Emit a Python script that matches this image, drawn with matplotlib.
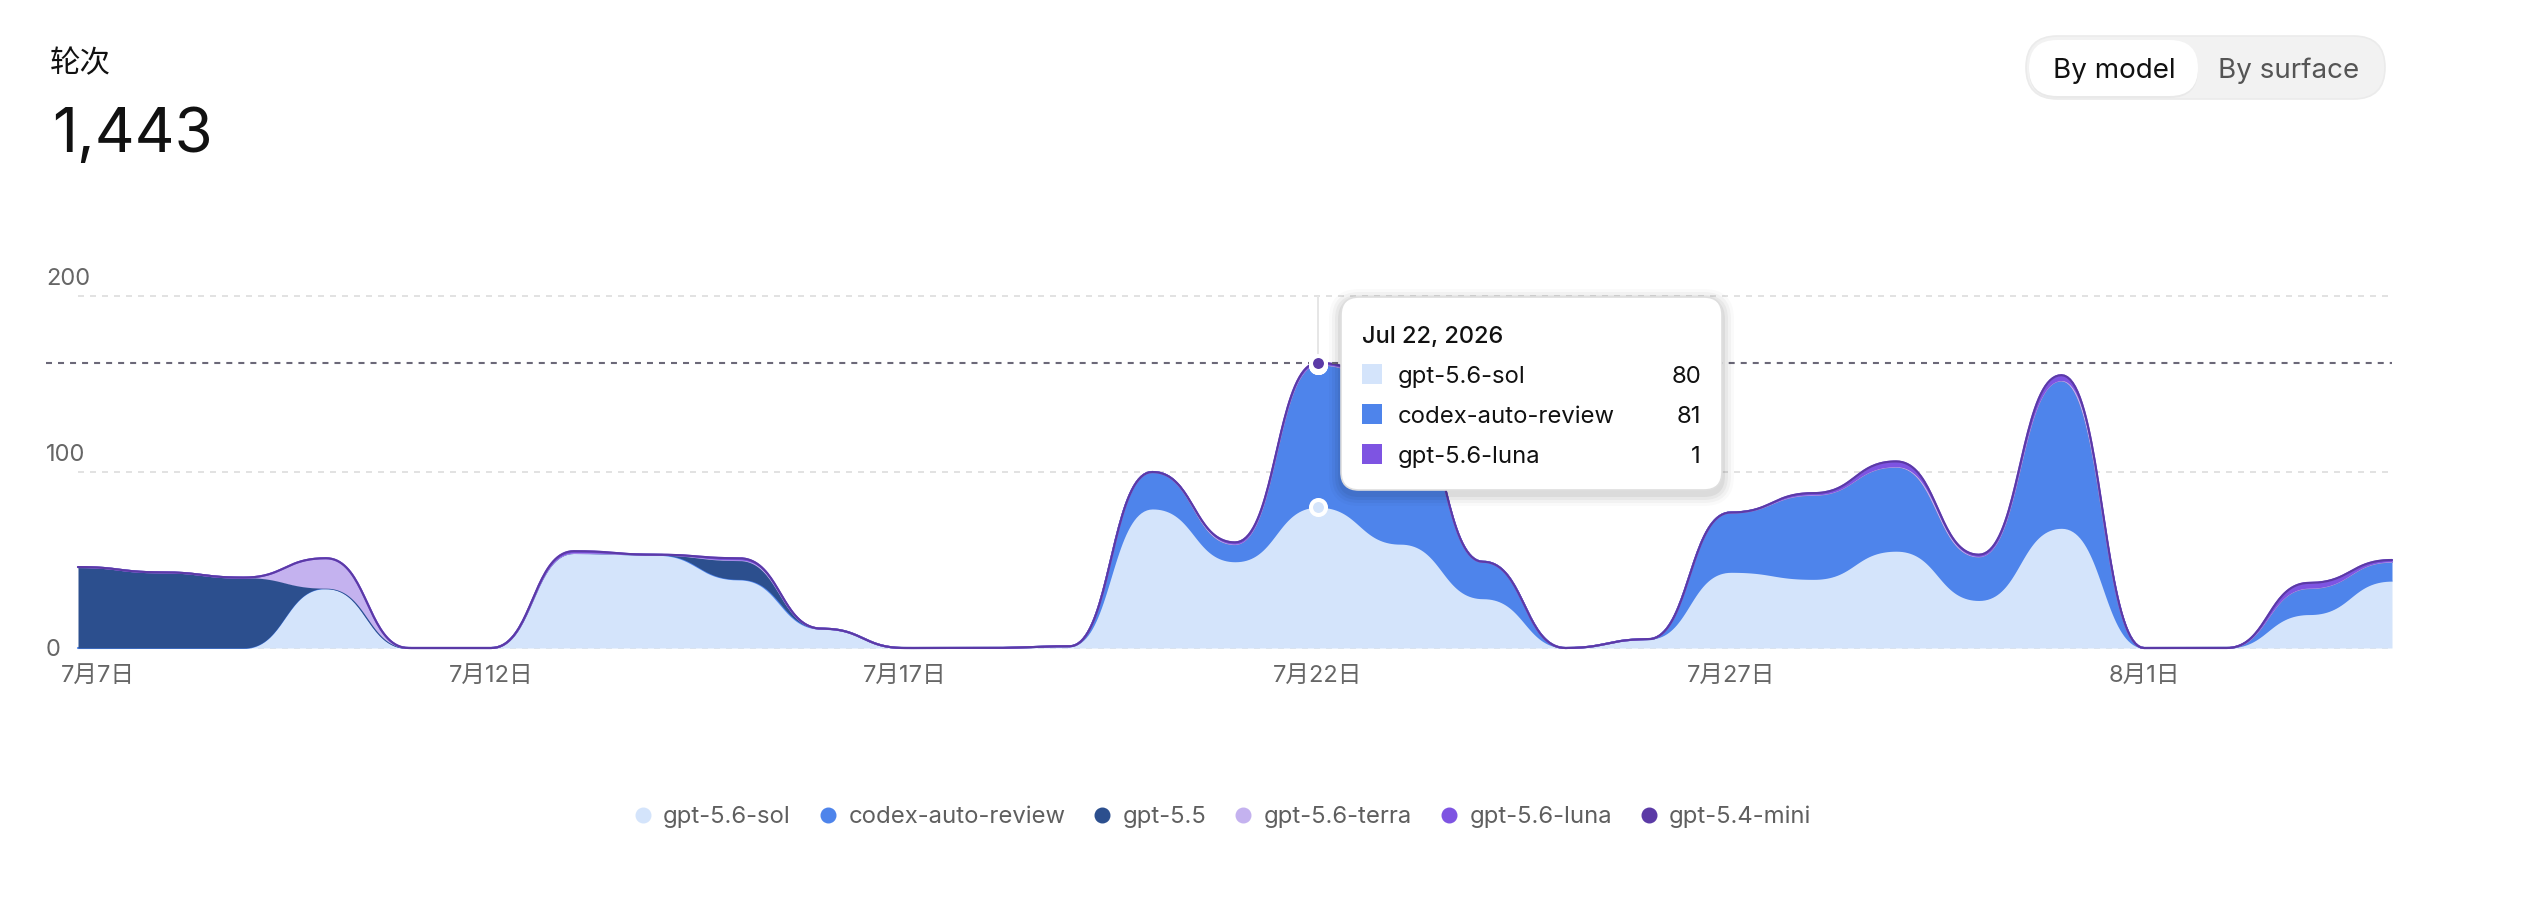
import matplotlib
matplotlib.use("Agg")
import matplotlib.pyplot as plt
import matplotlib.dates as mdates
import numpy as np
import pandas as pd
from matplotlib.lines import Line2D
from matplotlib.patches import FancyBboxPatch, Rectangle
from matplotlib.transforms import ScaledTranslation

plt.rcParams["font.family"] = ["Inter", "Noto Sans CJK SC", "DejaVu Sans"]

# ---------------------------------------------------------------------------
# Datos (7月7日 -> 8月4日)
# ---------------------------------------------------------------------------
dates = pd.date_range("2026-07-07", "2026-08-04", freq="D")

series_names = ["gpt-5.6-sol", "codex-auto-review", "gpt-5.5",
                "gpt-5.6-terra", "gpt-5.6-luna", "gpt-5.4-mini"]
series_colors = ["#d4e4fb", "#4e84eb", "#2c4f8e", "#c4b2ef", "#7e54e2", "#5b3aa6"]

sol = [0, 0, 0, 34, 0, 0, 54, 53, 39, 11, 0, 0, 1, 79, 49,
       80, 59, 28, 0, 5, 43, 39, 55, 27, 68, 0, 0, 19, 38]
codex = [0, 0, 0, 0, 0, 0, 0, 0, 0, 0, 0, 0, 0, 21, 10,
         81, 90, 21, 0, 0, 34, 48, 48, 25, 84, 0, 0, 15, 11]
gpt55 = [46, 43, 40, 0, 0, 0, 0, 0, 11, 0, 0, 0, 0, 0, 0,
         0, 0, 0, 0, 0, 0, 0, 0, 0, 0, 0, 0, 0, 0]
terra = [0, 0, 0, 17, 0, 0, 0, 0, 0, 0, 0, 0, 0, 0, 0,
         0, 0, 0, 0, 0, 0, 0, 0, 0, 0, 0, 0, 0, 0]
luna = [0, 0, 0, 0, 0, 0, 1, 0, 1, 0, 0, 0, 0, 0, 1,
        1, 1, 0, 0, 0, 0, 1, 3, 1, 3, 0, 0, 3, 1]
mini = [0] * 29

series_values = [sol, codex, gpt55, terra, luna, mini]

hover_idx = 15          # Jul 22
tick_every = 5
y_ticks = [0, 100, 200]

W, H = 2540, 916


def bump_x(xs, ys, n=40):
    """Curva bumpX (d3): bezier con controles en el punto medio horizontal."""
    xs = np.asarray(xs, float)
    ys = np.asarray(ys, float)
    u = np.linspace(0, 1, n, endpoint=False)
    fx = 1.5 * u * (1 - u) + u**3
    fy = 3 * u**2 - 2 * u**3
    out_x, out_y = [], []
    for i in range(len(xs) - 1):
        out_x.append(xs[i] + fx * (xs[i + 1] - xs[i]))
        out_y.append(ys[i] + fy * (ys[i + 1] - ys[i]))
    out_x.append([xs[-1]])
    out_y.append([ys[-1]])
    return np.concatenate(out_x), np.concatenate(out_y)


def inch(x, y):
    return x / 100, (H - y) / 100


fig = plt.figure(figsize=(W / 100, H / 100), dpi=100)
fig.patch.set_facecolor("white")
ax = fig.add_axes([78 / W, 1 - 648 / H, 2314 / W, 352 / H])

x = mdates.date2num(dates)
cum = np.cumsum(np.array(series_values, float), axis=0)

# grid
grid_dash = (0, (6 / 2, 6 / 2))
for yv in y_ticks:
    ax.axhline(yv, color="#e2e2e2", lw=1.44, ls=grid_dash, zorder=0, clip_on=False)

# cursor vertical
ax.axvline(x[hover_idx], color="#e6e6e6", lw=1.44, zorder=0.5)

_, lower_y = bump_x(x, np.zeros(len(x)))
for k, (name, col) in enumerate(zip(series_names, series_colors)):
    sx, sy = bump_x(x, cum[k])
    ax.fill_between(sx, lower_y, sy, color=col, lw=0, zorder=1 + k * 0.1)
    ax.plot(sx, sy, color=col, lw=1.5, zorder=1.05 + k * 0.1, clip_on=False,
            solid_capstyle="round")
    lower_y = sy

# crosshair horizontal en el total
total_hover = cum[-1][hover_idx]
ax.axhline(total_hover, xmin=(46 - 78) / 2314, xmax=1, color="#6b6878", lw=1.5,
           ls=(0, (6 / 2.08, 6 / 2.08)), zorder=2, clip_on=False)

# puntos activos
for k, col in enumerate(series_colors):
    ax.plot(x[hover_idx], cum[k][hover_idx], "o", ms=10.8, mfc=col, mec="white",
            mew=2.9, zorder=3 + k * 0.1, clip_on=False)

ax.set_xlim(x[0], x[-1])
ax.set_ylim(0, 200)
for sp in ax.spines.values():
    sp.set_visible(False)
ax.set_facecolor("none")

tick_pos = x[::tick_every]
ax.set_xticks(tick_pos)
ax.set_xticklabels([f"{d.month}月{d.day}日" for d in dates[::tick_every]])
ax.set_yticks(y_ticks)
ax.set_yticklabels([str(v) for v in y_ticks])
ax.tick_params(axis="x", length=0, pad=12, labelsize=17, labelcolor="#666666")
ax.tick_params(axis="y", length=0, pad=23, labelsize=17, labelcolor="#666666")
for lbl in ax.get_yticklabels():
    lbl.set_ha("left")
    if lbl.get_text() != "0":
        lbl.set_transform(lbl.get_transform() + ScaledTranslation(0, 0.195, fig.dpi_scale_trans))
first = ax.get_xticklabels()[0]
first.set_transform(first.get_transform() + ScaledTranslation(0.20, 0, fig.dpi_scale_trans))

T = fig.dpi_scale_trans

# encabezado
fig.text(*inch(50, 72), "轮次", transform=T, fontsize=22, color="#111111",
         family=["Noto Sans CJK SC", "DejaVu Sans"], va="baseline")
total = int(np.array(series_values).sum())
fig.text(*inch(52, 152), f"{total:,}", transform=T, fontsize=44.5, color="#111111",
         fontweight="normal", va="baseline")

# toggle
ox0, oy0, ox1, oy1 = 2026, 36, 2385, 99
fig.add_artist(FancyBboxPatch(inch(ox0, oy1), (ox1 - ox0) / 100, (oy1 - oy0) / 100,
                              boxstyle=f"round,pad=0,rounding_size={(oy1 - oy0) / 200}",
                              transform=T, fc="#f2f2f2", ec="#ebebeb", lw=1.2))
ix0, iy0, ix1, iy1 = 2029, 40, 2198, 96
fig.add_artist(FancyBboxPatch(inch(ix0, iy1 + 2), (ix1 - ix0) / 100, (iy1 - iy0) / 100,
                              boxstyle=f"round,pad=0,rounding_size={(iy1 - iy0) / 200}",
                              transform=T, fc="#e4e4e4", ec="none", alpha=0.6))
fig.add_artist(FancyBboxPatch(inch(ix0, iy1), (ix1 - ix0) / 100, (iy1 - iy0) / 100,
                              boxstyle=f"round,pad=0,rounding_size={(iy1 - iy0) / 200}",
                              transform=T, fc="white", ec="none"))
fig.text(*inch(2114, 78), "By model", transform=T, fontsize=20, color="#111111",
         ha="center", va="baseline")
fig.text(*inch(2289, 78), "By surface", transform=T, fontsize=20, color="#555555",
         ha="center", va="baseline")

# tooltip
tx0, ty0, tx1, ty1 = 1341, 297, 1722, 490
for i, a in enumerate([0.05, 0.04, 0.03, 0.02]):
    g = 3 + i * 3
    fig.add_artist(FancyBboxPatch(inch(tx0 - g, ty1 + g + 4), (tx1 - tx0 + 2 * g) / 100,
                                  (ty1 - ty0 + 2 * g) / 100,
                                  boxstyle=f"round,pad=0,rounding_size={(18 + g) / 100}",
                                  transform=T, fc="black", ec="none", alpha=a, zorder=1))
fig.add_artist(FancyBboxPatch(inch(tx0, ty1), (tx1 - tx0) / 100, (ty1 - ty0) / 100,
                              boxstyle="round,pad=0,rounding_size=0.18",
                              transform=T, fc="white", ec="#dedede", lw=1.2, zorder=2))
fig.text(*inch(1362, 343), dates[hover_idx].strftime("%b %d, %Y"), transform=T,
         fontsize=17, color="#111111", fontweight="medium", va="baseline", zorder=3)
rows = [(n, c, v[hover_idx]) for n, c, v in zip(series_names, series_colors, series_values)
        if v[hover_idx] > 0]
for r, (n, c, v) in enumerate(rows):
    cy = 374 + r * 40
    fig.add_artist(Rectangle(inch(1362, cy + 10), 0.20, 0.20, transform=T, fc=c, ec="none",
                             zorder=3))
    fig.text(*inch(1398, cy + 9), n, transform=T, fontsize=17.2, color="#111111",
             va="baseline", zorder=3)
    fig.text(*inch(1701, cy + 9), f"{v}", transform=T, fontsize=17.2, color="#111111",
             va="baseline", ha="right", zorder=3)

# leyenda
handles = [Line2D([], [], marker="o", ls="none", ms=10.5, mfc=c, mec=c)
           for c in series_colors]
fig.legend(handles, series_names, loc="center", bbox_to_anchor=(1223 / W, 1 - 817 / H),
           ncol=6, frameon=False, fontsize=17.2, labelcolor="#5f5f5f",
           handlelength=0.7, handletextpad=0.5, columnspacing=1.2, borderpad=0)

fig.savefig("out.png", dpi=100)
